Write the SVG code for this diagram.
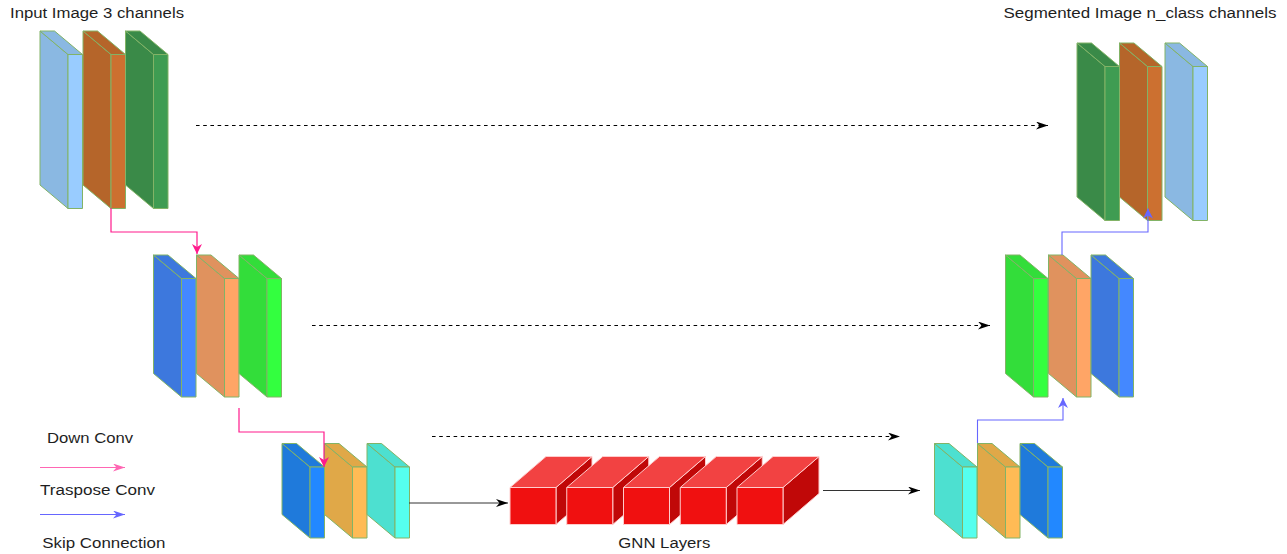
<svg xmlns="http://www.w3.org/2000/svg" width="1287" height="554" viewBox="0 0 1287 554">
<defs>
<style>
.s{stroke:#82b366;stroke-width:1;stroke-linejoin:round}
.lbS{fill:#8ab8e2}.lbF{fill:#99ccff}
.obS{fill:#b5652a}.obF{fill:#cc7030}
.gdS{fill:#3a8a48}.gdF{fill:#3f9c52}
.blS{fill:#3d78dd}.blF{fill:#4488ff}
.loS{fill:#e0925e}.loF{fill:#ffa566}
.bgS{fill:#33dd3a}.bgF{fill:#33ff3f}
.b2S{fill:#1f7adb}.b2F{fill:#2288ff}
.goS{fill:#e0a848}.goF{fill:#ffbb55}
.cyS{fill:#4de0d0}.cyF{fill:#55ffee}
.c{stroke:#ffcccc;stroke-width:1;stroke-linejoin:round}
.cF{fill:#f01010}.cT{fill:#f24242}.cS{fill:#c00808}
.t{font-family:"Liberation Sans",Arial,Helvetica,sans-serif;font-size:14px;fill:#1e1e1e}
.dash{fill:none;stroke:#000;stroke-width:1;stroke-dasharray:3.6 3.6}
.solid{fill:none;stroke:#333;stroke-width:1}
.pink{fill:none;stroke:#ff1a8c;stroke-width:1.2}
.blue{fill:none;stroke:#6666ff;stroke-width:1.1}
</style>
<marker id="aK" markerWidth="12" markerHeight="8" refX="12" refY="4" orient="auto" markerUnits="userSpaceOnUse"><path d="M0,0 L12,4 L0,8 L3.5,4 z" fill="#000"/></marker>
<marker id="aP" markerWidth="12" markerHeight="10" refX="10" refY="5" orient="auto" markerUnits="userSpaceOnUse"><path d="M0,0 L10,5 L0,10 L3,5 z" fill="#ff1a8c"/></marker>
<marker id="aPL" markerWidth="12" markerHeight="8" refX="12" refY="4" orient="auto" markerUnits="userSpaceOnUse"><path d="M0,0 L12,4 L0,8 L3.5,4 z" fill="#ff66b3"/></marker>
<marker id="aB" markerWidth="12" markerHeight="10" refX="10" refY="5" orient="auto" markerUnits="userSpaceOnUse"><path d="M0,0 L10,5 L0,10 L3,5 z" fill="#6666ff"/></marker>
<marker id="aBL" markerWidth="12" markerHeight="8" refX="12" refY="4" orient="auto" markerUnits="userSpaceOnUse"><path d="M0,0 L12,4 L0,8 L3.5,4 z" fill="#6666ff"/></marker>
</defs>
<rect width="1287" height="554" fill="#ffffff"/>

<!-- Input image slabs -->
<g id="input-image">
<g transform="translate(40,31)"><polygon class="s lbS" points="0,0 28,23.5 28,177.5 0,154"/><polygon class="s lbS" points="0,0 14.5,0 42.5,23.5 28,23.5"/><rect class="s lbF" x="28" y="23.5" width="14.5" height="154"/></g>
<g transform="translate(83,31)"><polygon class="s obS" points="0,0 28,23.5 28,177.5 0,154"/><polygon class="s obS" points="0,0 14.5,0 42.5,23.5 28,23.5"/><rect class="s obF" x="28" y="23.5" width="14.5" height="154"/></g>
<g transform="translate(125.5,31)"><polygon class="s gdS" points="0,0 28,23.5 28,177.5 0,154"/><polygon class="s gdS" points="0,0 14.5,0 42.5,23.5 28,23.5"/><rect class="s gdF" x="28" y="23.5" width="14.5" height="154"/></g>
</g>

<!-- Segmented image slabs -->
<g id="output-image">
<g transform="translate(1077,43)"><polygon class="s gdS" points="0,0 28,23.5 28,177.5 0,154"/><polygon class="s gdS" points="0,0 14.5,0 42.5,23.5 28,23.5"/><rect class="s gdF" x="28" y="23.5" width="14.5" height="154"/></g>
<g transform="translate(1119.5,43)"><polygon class="s obS" points="0,0 28,23.5 28,177.5 0,154"/><polygon class="s obS" points="0,0 14.5,0 42.5,23.5 28,23.5"/><rect class="s obF" x="28" y="23.5" width="14.5" height="154"/></g>
<g transform="translate(1165,43)"><polygon class="s lbS" points="0,0 28,23.5 28,177.5 0,154"/><polygon class="s lbS" points="0,0 14.5,0 42.5,23.5 28,23.5"/><rect class="s lbF" x="28" y="23.5" width="14.5" height="154"/></g>
</g>

<!-- Encoder level 2 -->
<g id="enc2">
<g transform="translate(153.5,255)"><polygon class="s blS" points="0,0 28,23.5 28,142 0,118.5"/><polygon class="s blS" points="0,0 14.5,0 42.5,23.5 28,23.5"/><rect class="s blF" x="28" y="23.5" width="14.5" height="118.5"/></g>
<g transform="translate(196.5,255)"><polygon class="s loS" points="0,0 28,23.5 28,142 0,118.5"/><polygon class="s loS" points="0,0 14.5,0 42.5,23.5 28,23.5"/><rect class="s loF" x="28" y="23.5" width="14.5" height="118.5"/></g>
<g transform="translate(239,255)"><polygon class="s bgS" points="0,0 28,23.5 28,142 0,118.5"/><polygon class="s bgS" points="0,0 14.5,0 42.5,23.5 28,23.5"/><rect class="s bgF" x="28" y="23.5" width="14.5" height="118.5"/></g>
</g>

<!-- Decoder level 2 -->
<g id="dec2">
<g transform="translate(1005.5,255)"><polygon class="s bgS" points="0,0 28,23.5 28,142 0,118.5"/><polygon class="s bgS" points="0,0 14.5,0 42.5,23.5 28,23.5"/><rect class="s bgF" x="28" y="23.5" width="14.5" height="118.5"/></g>
<g transform="translate(1048.5,255)"><polygon class="s loS" points="0,0 28,23.5 28,142 0,118.5"/><polygon class="s loS" points="0,0 14.5,0 42.5,23.5 28,23.5"/><rect class="s loF" x="28" y="23.5" width="14.5" height="118.5"/></g>
<g transform="translate(1091,255)"><polygon class="s blS" points="0,0 28,23.5 28,142 0,118.5"/><polygon class="s blS" points="0,0 14.5,0 42.5,23.5 28,23.5"/><rect class="s blF" x="28" y="23.5" width="14.5" height="118.5"/></g>
</g>

<!-- Encoder level 3 -->
<g id="enc3">
<g transform="translate(282,443.5)"><polygon class="s b2S" points="0,0 28,23.5 28,94.5 0,71"/><polygon class="s b2S" points="0,0 14.5,0 42.5,23.5 28,23.5"/><rect class="s b2F" x="28" y="23.5" width="14.5" height="71"/></g>
<g transform="translate(324.5,443.5)"><polygon class="s goS" points="0,0 28,23.5 28,94.5 0,71"/><polygon class="s goS" points="0,0 14.5,0 42.5,23.5 28,23.5"/><rect class="s goF" x="28" y="23.5" width="14.5" height="71"/></g>
<g transform="translate(367,443.5)"><polygon class="s cyS" points="0,0 28,23.5 28,94.5 0,71"/><polygon class="s cyS" points="0,0 14.5,0 42.5,23.5 28,23.5"/><rect class="s cyF" x="28" y="23.5" width="14.5" height="71"/></g>
</g>

<!-- Decoder level 3 -->
<g id="dec3">
<g transform="translate(934.5,443.5)"><polygon class="s cyS" points="0,0 28,23.5 28,94.5 0,71"/><polygon class="s cyS" points="0,0 14.5,0 42.5,23.5 28,23.5"/><rect class="s cyF" x="28" y="23.5" width="14.5" height="71"/></g>
<g transform="translate(977.5,443.5)"><polygon class="s goS" points="0,0 28,23.5 28,94.5 0,71"/><polygon class="s goS" points="0,0 14.5,0 42.5,23.5 28,23.5"/><rect class="s goF" x="28" y="23.5" width="14.5" height="71"/></g>
<g transform="translate(1020,443.5)"><polygon class="s b2S" points="0,0 28,23.5 28,94.5 0,71"/><polygon class="s b2S" points="0,0 14.5,0 42.5,23.5 28,23.5"/><rect class="s b2F" x="28" y="23.5" width="14.5" height="71"/></g>
</g>

<!-- GNN layers -->
<g id="gnn-layers">
<g transform="translate(510,487.5)"><polygon class="c cS" points="46,0 82,-31 82,6 46,37"/><polygon class="c cT" points="0,0 36,-31 82,-31 46,0"/><rect class="c cF" x="0" y="0" width="46" height="37"/></g>
<g transform="translate(566.75,487.5)"><polygon class="c cS" points="46,0 82,-31 82,6 46,37"/><polygon class="c cT" points="0,0 36,-31 82,-31 46,0"/><rect class="c cF" x="0" y="0" width="46" height="37"/></g>
<g transform="translate(623.5,487.5)"><polygon class="c cS" points="46,0 82,-31 82,6 46,37"/><polygon class="c cT" points="0,0 36,-31 82,-31 46,0"/><rect class="c cF" x="0" y="0" width="46" height="37"/></g>
<g transform="translate(680.25,487.5)"><polygon class="c cS" points="46,0 82,-31 82,6 46,37"/><polygon class="c cT" points="0,0 36,-31 82,-31 46,0"/><rect class="c cF" x="0" y="0" width="46" height="37"/></g>
<g transform="translate(737,487.5)"><polygon class="c cS" points="46,0 82,-31 82,6 46,37"/><polygon class="c cT" points="0,0 36,-31 82,-31 46,0"/><rect class="c cF" x="0" y="0" width="46" height="37"/></g>
<text class="t" x="618.3" y="548.3" textLength="92" lengthAdjust="spacingAndGlyphs">GNN Layers</text>
</g>

<!-- Connectors -->
<g id="connectors">
<path class="dash" d="M196,125.5 H1048" marker-end="url(#aK)"/>
<path class="dash" d="M312,325.5 H990" marker-end="url(#aK)"/>
<path class="dash" d="M432,436.5 H900" marker-end="url(#aK)"/>
<path class="pink" d="M111,208 V232 H197 V254" marker-end="url(#aP)"/>
<path class="pink" d="M239,408 V432 H324 V467" marker-end="url(#aP)"/>
<path class="blue" d="M977.5,443 V420 H1063 V398" marker-end="url(#aB)"/>
<path class="blue" d="M1062,255 V232 H1148 V208.5" marker-end="url(#aB)"/>
<path class="solid" d="M409,503 H508" marker-end="url(#aK)"/>
<path class="solid" d="M823,490.5 H920" marker-end="url(#aK)"/>
</g>

<!-- Titles -->
<g id="titles">
<text class="t" x="10" y="17.5" textLength="174" lengthAdjust="spacingAndGlyphs">Input Image 3 channels</text>
<text class="t" x="1003.5" y="17.5" textLength="273" lengthAdjust="spacingAndGlyphs">Segmented Image n_class channels</text>
</g>

<!-- Legend -->
<g id="legend">
<text class="t" x="47" y="442.5" textLength="86" lengthAdjust="spacingAndGlyphs">Down Conv</text>
<path d="M40,467.5 H125" fill="none" stroke="#ff66b3" stroke-width="1.1" marker-end="url(#aPL)"/>
<text class="t" x="40" y="495" textLength="115" lengthAdjust="spacingAndGlyphs">Traspose Conv</text>
<path d="M40,514.5 H125" fill="none" stroke="#6666ff" stroke-width="1.1" marker-end="url(#aBL)"/>
<text class="t" x="42.3" y="548.3" textLength="123" lengthAdjust="spacingAndGlyphs">Skip Connection</text>
</g>
</svg>
